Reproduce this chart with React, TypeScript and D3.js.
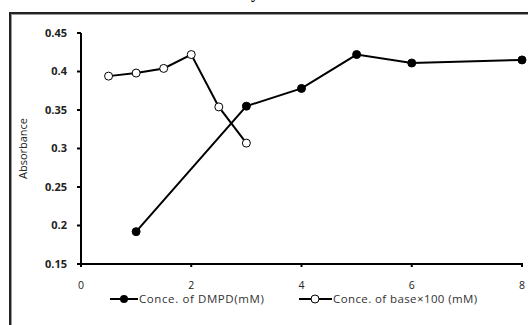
import React from "react";
import * as d3 from "d3";

const dmpdX = [1, 3, 4, 5, 6, 8];
const dmpdY = [0.192, 0.355, 0.378, 0.422, 0.411, 0.415];
const baseX = [0.5, 1, 1.5, 2, 2.5, 3];
const baseY = [0.394, 0.398, 0.404, 0.422, 0.354, 0.307];
const xTicks = [0, 2, 4, 6, 8];
const yTicks = [0.15, 0.2, 0.25, 0.3, 0.35, 0.4, 0.45];
const seriesNames = ["Conce. of DMPD(mM)", "Conce. of base\u00d7100 (mM)"];

const W = 528;
const H = 325;
const margin = { left: 81, right: 6, top: 33, bottom: 61 };

export default function App() {
  const x = d3.scaleLinear().domain([0, 8]).range([margin.left, W - margin.right]);
  const y = d3.scaleLinear().domain([0.15, 0.45]).range([H - margin.bottom, margin.top]);
  const line = d3
    .line<[number, number]>()
    .x(d => x(d[0]))
    .y(d => y(d[1]));

  const dmpd = dmpdX.map((v, i) => [v, dmpdY[i]] as [number, number]);
  const base = baseX.map((v, i) => [v, baseY[i]] as [number, number]);
  const font = "'Open Sans', 'Liberation Sans', Arial, sans-serif";

  return (
    <svg
      width={W}
      height={H}
      style={{ position: "absolute", left: 0, top: 0, background: "#fff" }}
      fontFamily={font}
    >
      {/* title, cut off at the top edge as in the source */}
      <text x={255} y={-2} textAnchor="middle" fontSize={16} fontWeight="bold" fill="#000" fontFamily="'Liberation Serif', serif">
        y
      </text>
      {/* frame */}
      <rect x={10} y={13} width={700} height={500} fill="none" stroke="#222" strokeWidth={2} />
      <rect x={11.5} y={14.5} width={700} height={500} fill="none" stroke="#999" strokeWidth={1} />

      {/* axes */}
      <line x1={x(0)} x2={x(0)} y1={y(0.45)} y2={y(0.15) + 3} stroke="#000" strokeWidth={2} />
      <line x1={x(0) - 4} x2={x(8) + 1} y1={y(0.15)} y2={y(0.15)} stroke="#000" strokeWidth={2} />
      {yTicks.map(t => (
        <g key={"y" + t}>
          <line x1={x(0) - 4} x2={x(0)} y1={y(t)} y2={y(t)} stroke="#000" strokeWidth={2} />
          <text x={67} y={y(t)} dy="0.35em" textAnchor="end" fontSize={11} fontWeight="bold" fill="#222">
            {t}
          </text>
        </g>
      ))}
      {xTicks.map(t => (
        <g key={"x" + t}>
          <line x1={x(t)} x2={x(t)} y1={y(0.15)} y2={y(0.15) + 3} stroke="#000" strokeWidth={2} />
          <text x={x(t)} y={289} textAnchor="middle" fontSize={10.5} fill="#222">
            {t}
          </text>
        </g>
      ))}
      <text
        transform={`translate(27,${(y(0.15) + y(0.45)) / 2}) rotate(-90)`}
        textAnchor="middle"
        fontSize={11}
        fill="#222"
      >
        Absorbance
      </text>

      {/* series */}
      <path d={line(dmpd) || ""} fill="none" stroke="#000" strokeWidth={2} />
      <path d={line(base) || ""} fill="none" stroke="#000" strokeWidth={2} />
      {dmpd.map((d, i) => (
        <circle key={"d" + i} cx={x(d[0])} cy={y(d[1])} r={4} fill="#000" stroke="#000" />
      ))}
      {base.map((d, i) => (
        <circle key={"b" + i} cx={x(d[0])} cy={y(d[1])} r={4} fill="#fff" stroke="#000" strokeWidth={1} />
      ))}

      {/* legend */}
      <g transform="translate(110,299)">
        <line x1={0} x2={28} y1={0} y2={0} stroke="#000" strokeWidth={2} />
        <circle cx={14} cy={0} r={4} fill="#000" />
        <text x={29} y={0} dy="0.35em" fontSize={11.5} letterSpacing={0.6} fill="#333">
          {seriesNames[0]}
        </text>
      </g>
      <g transform="translate(299,299)">
        <line x1={0} x2={33} y1={0} y2={0} stroke="#000" strokeWidth={2} />
        <circle cx={16} cy={0} r={4} fill="#fff" stroke="#000" />
        <text x={34} y={0} dy="0.35em" fontSize={11.5} letterSpacing={0.4} fill="#333">
          {seriesNames[1]}
        </text>
      </g>
    </svg>
  );
}
